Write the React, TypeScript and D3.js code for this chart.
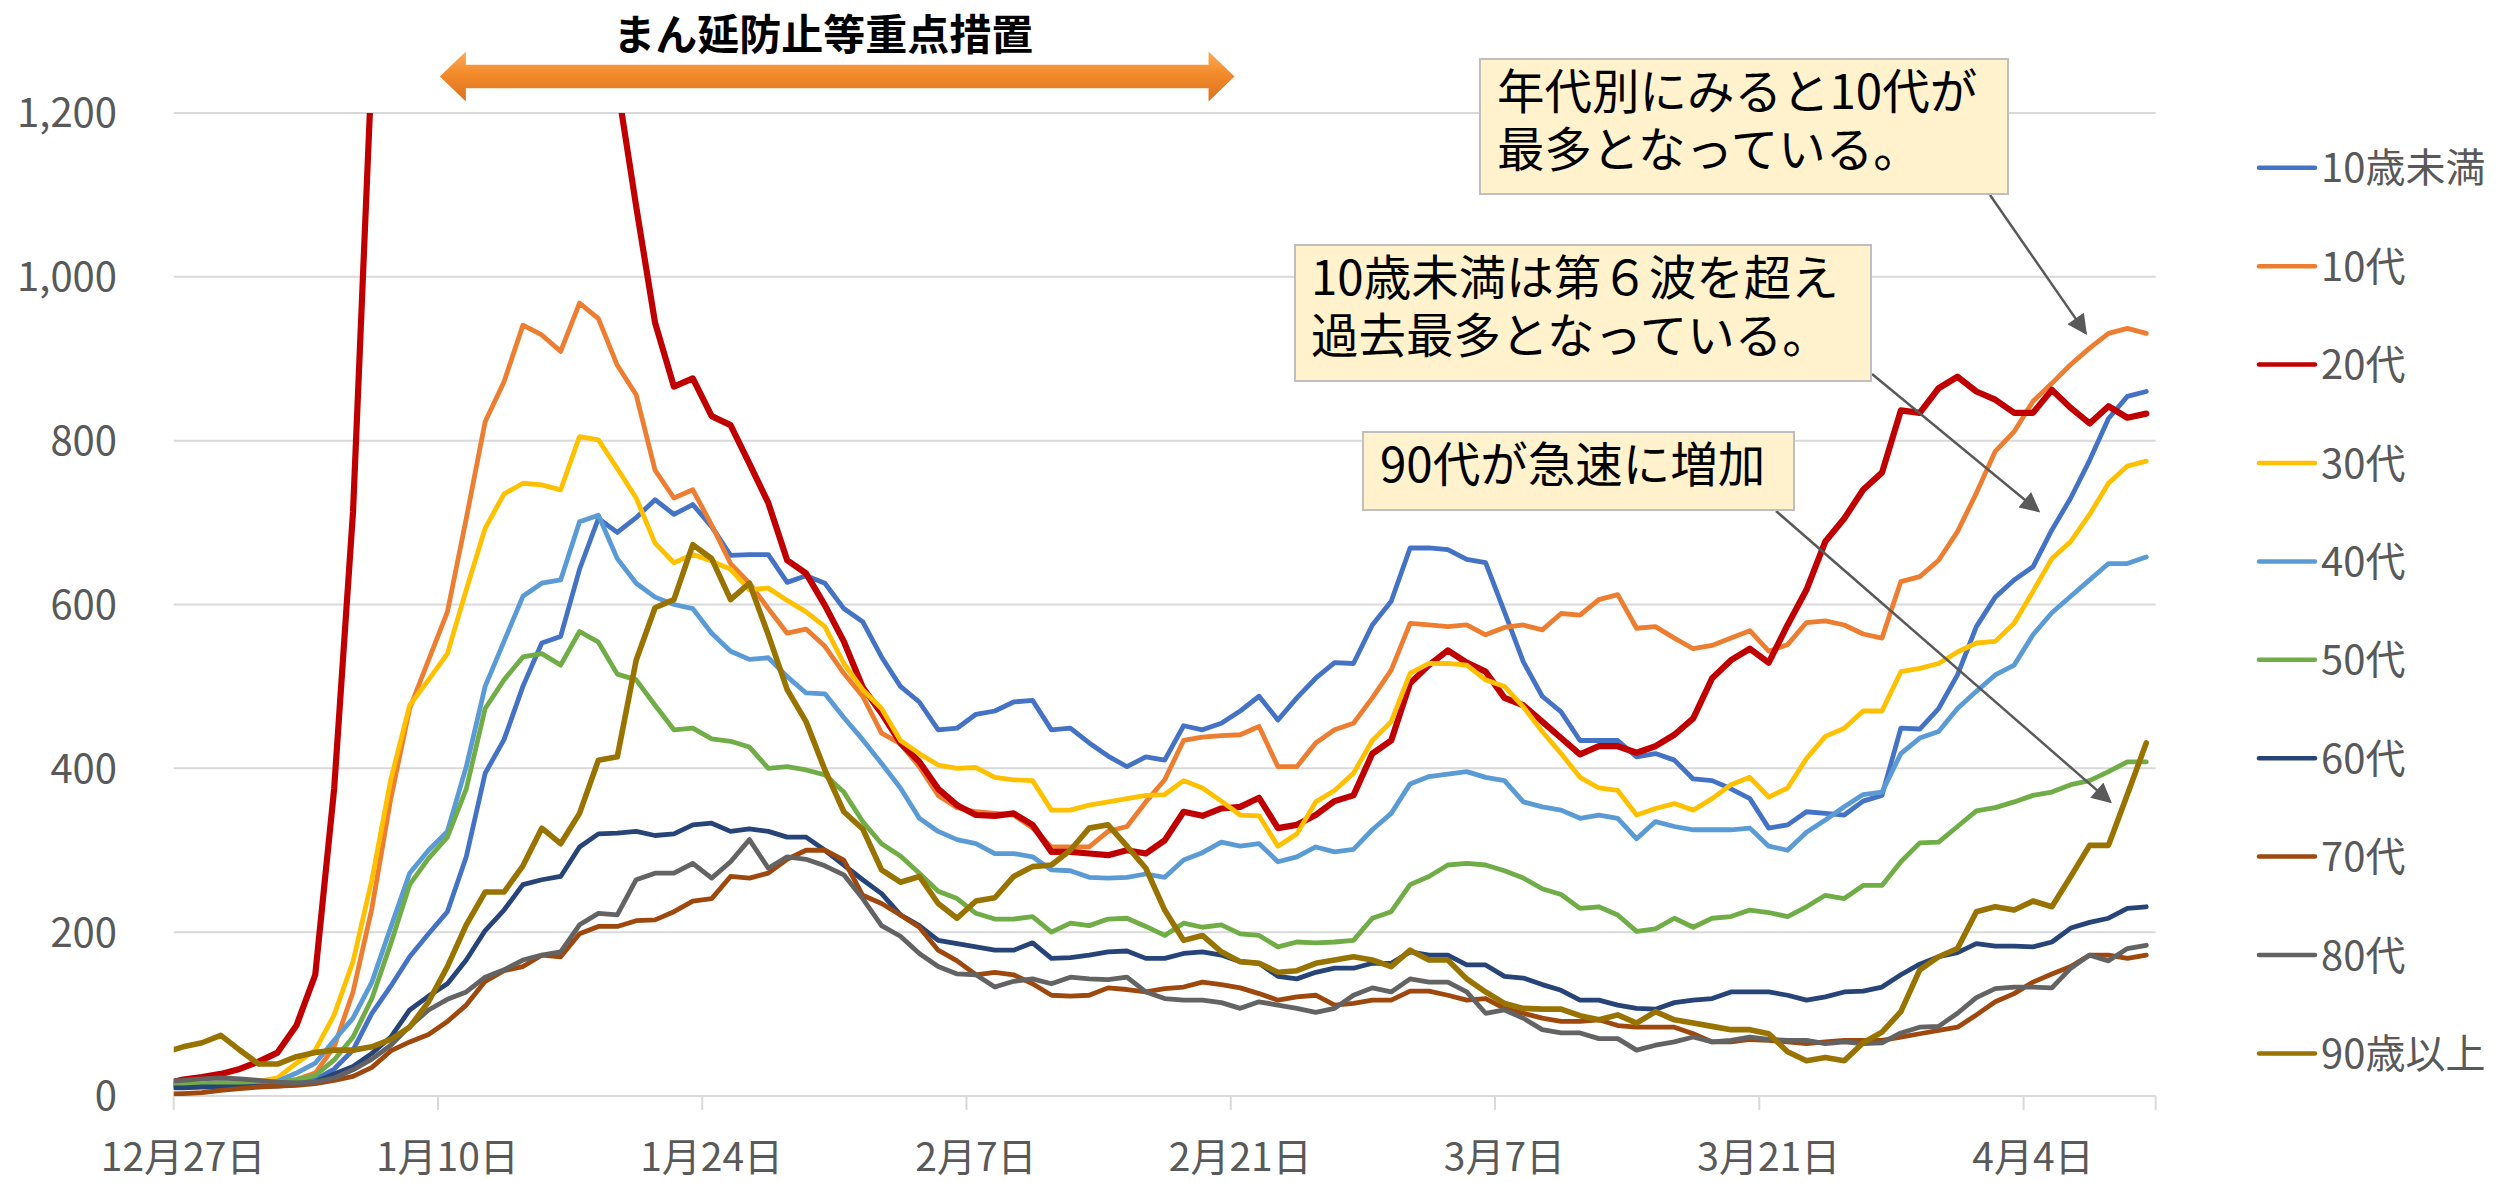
import React from 'react';
import * as d3 from 'd3';

// Daily values, first entry = 12月26日 (just left of the axis, clipped), last = 4月10日
const seriesNames = ["10歳未満", "10代", "20代", "30代", "40代", "50代", "60代", "70代", "80代", "90歳以上"];

const under10 = [12,13,13,14,14,14,15,16,20,33,
  56,101,134,170,198,225,292,394,435,500,
  553,561,643,705,688,706,728,710,722,695,
  660,661,661,627,635,626,595,579,536,500,
  481,447,449,466,470,481,483,447,449,431,
  415,402,414,410,452,447,455,470,488,459,
  486,510,529,528,575,604,669,669,667,655,
  651,591,530,488,469,434,434,434,414,418,
  410,387,385,375,363,327,331,347,345,343,
  360,367,449,448,473,514,573,609,630,646,
  691,730,776,827,854,860];

const teens = [12,13,13,14,14,15,17,20,28,60,
  127,229,363,473,532,591,705,823,872,941,
  929,909,968,949,892,856,764,730,740,697,
  650,626,595,565,570,549,516,488,443,430,
  402,367,352,347,345,343,327,304,304,304,
  323,329,359,386,434,438,440,441,451,402,
  402,431,447,455,486,520,577,575,573,575,
  563,572,575,569,589,587,606,612,571,573,
  559,546,550,559,568,543,551,578,580,575,
  564,559,628,634,654,689,736,787,811,848,
  870,893,913,931,937,931];

const twenties = [15,20,23,27,33,42,53,86,148,375,
  713,1260,1480,1620,1700,1740,1720,1660,1600,1540,
  1470,1400,1340,1290,1235,1086,944,866,876,830,
  819,772,724,654,638,599,555,499,467,431,
  408,375,355,343,342,345,331,298,298,296,
  294,300,296,312,347,342,351,353,364,327,
  331,343,360,367,418,434,504,526,544,529,
  518,486,477,457,437,417,427,427,419,427,
  441,461,510,532,546,529,575,618,677,705,
  740,761,837,834,864,878,860,850,834,834,
  862,840,821,842,828,833];

const thirties = [12,13,14,15,16,18,22,40,56,99,
  164,264,386,477,508,540,618,693,735,748,
  746,740,805,801,766,730,675,651,661,653,
  643,618,620,605,591,573,528,496,473,434,
  418,404,400,401,389,386,385,349,349,355,
  359,363,367,368,385,376,360,343,342,305,
  320,359,373,394,434,457,516,528,528,526,
  508,500,475,445,418,389,376,373,343,351,
  357,349,363,380,389,365,376,412,439,449,
  470,470,518,522,528,542,553,555,577,616,
  656,677,710,748,769,775];

const forties = [12,13,13,14,14,15,18,28,40,68,
  95,139,206,272,300,323,402,500,555,610,
  626,630,701,709,656,626,609,600,595,565,
  543,533,535,512,492,491,462,435,406,376,
  339,323,313,308,296,296,292,276,275,267,
  266,267,271,267,288,297,310,305,308,286,
  292,304,298,301,325,345,381,390,393,396,
  389,385,359,353,349,339,343,339,314,335,
  329,325,325,325,327,305,300,322,337,353,
  368,371,418,437,445,473,494,514,526,563,
  590,610,630,650,650,658];

const fifties = [14,15,15,16,16,16,17,20,25,44,
  72,119,186,258,290,316,375,473,508,536,
  540,526,567,554,515,508,477,447,449,436,
  433,426,400,402,398,392,371,335,308,293,
  272,250,241,223,216,216,219,200,211,208,
  216,217,207,196,211,206,209,198,196,182,
  188,187,188,190,217,225,258,268,282,284,
  282,275,266,253,246,229,231,221,201,204,
  217,206,217,219,227,224,219,231,245,241,
  257,257,286,309,310,329,348,352,359,367,
  371,380,385,396,408,408];

const sixties = [10,10,11,11,11,12,12,14,17,27,
  36,52,72,105,122,137,166,202,227,258,
  264,268,304,320,321,323,318,320,331,333,
  323,326,323,316,316,300,282,264,247,221,
  208,190,186,182,178,178,187,168,169,172,
  176,177,168,168,174,176,172,164,162,146,
  143,151,156,156,162,162,176,172,172,160,
  160,146,144,136,129,117,117,111,107,106,
  114,117,119,127,127,127,123,117,121,127,
  128,133,148,161,170,175,186,183,183,182,
  188,205,212,217,229,231];

const seventies = [2,3,4,7,9,11,12,13,15,19,
  24,35,55,66,75,91,111,140,153,158,
  172,170,198,207,207,214,215,225,238,241,
  268,266,272,289,300,300,288,245,235,221,
  206,178,165,148,151,148,137,123,122,123,
  132,130,127,131,133,139,136,132,125,117,
  121,123,111,113,117,117,128,128,123,117,
  119,107,101,95,91,91,93,86,84,84,
  84,76,66,66,69,68,66,64,66,68,
  68,68,72,76,80,84,99,115,125,139,
  149,158,172,172,168,172];

const eighties = [18,19,21,22,21,19,17,16,17,22,
  32,45,62,85,105,118,127,145,154,166,
  172,176,209,223,221,264,272,272,284,266,
  286,313,278,292,289,281,270,241,208,195,
  174,158,149,148,133,140,143,137,145,143,
  142,145,127,119,117,117,114,107,115,111,
  107,102,107,123,132,127,143,139,139,127,
  101,105,95,81,77,77,70,70,56,62,
  66,72,66,68,72,69,68,68,64,66,
  64,65,77,84,85,101,120,131,133,133,
  132,156,172,165,180,184];

const ninetiesPlus = [53,60,65,74,56,39,39,48,53,56,
  56,60,69,84,115,158,209,249,249,281,
  327,308,345,410,414,532,596,606,673,656,
  606,626,563,496,457,398,347,326,276,261,
  268,235,217,238,242,268,280,282,300,327,
  331,305,278,227,190,196,176,164,162,151,
  153,162,166,170,166,158,178,166,166,143,
  127,113,107,106,106,98,93,99,89,103,
  93,89,85,81,81,76,54,43,47,43,
  65,78,103,154,170,180,225,231,227,238,
  231,268,306,306,368,431];

const seriesValues = [under10, teens, twenties, thirties, forties, fifties, sixties, seventies, eighties, ninetiesPlus];

const yTickValues = [0, 200, 400, 600, 800, 1000, 1200];
const xTickDays = [0, 14, 28, 42, 56, 70, 84, 98]; // days after 12月27日
const xTickLabels = ["12月27日", "1月10日", "1月24日", "2月7日", "2月21日", "3月7日", "3月21日", "4月4日"];

const periodTitle = "まん延防止等重点措置";
const periodDays = [13.6, 55.7];

const notes = [
  { lines: ["年代別にみると10代が", "最多となっている。"], target: [100.8, 931] },
  { lines: ["10歳未満は第６波を超え", "過去最多となっている。"], target: [98.3, 714] },
  { lines: ["90代が急速に増加"], target: [102.1, 359] },
];

const colors = ["#4472C4", "#ED7D31", "#C00000", "#FFC000", "#5B9BD5", "#70AD47", "#264478", "#9E480E", "#636363", "#997300"];
const widths = [4.8, 4.8, 6.2, 4.8, 4.8, 4.8, 4.8, 4.8, 4.8, 5.6];

const FONT = "'Noto Sans CJK JP', 'Noto Sans', sans-serif";

export default function App() {
  const W = 2506, H = 1182;
  const left = 173.7, right = 2155.7, top = 113, bottom = 1096;
  const x = d3.scaleLinear().domain([-0.5, 104.5]).range([left, right]);
  const y = d3.scaleLinear().domain([0, 1200]).range([bottom, top]);
  const line = d3.line<number>().x((_, i) => x(i - 1)).y((v) => y(v));

  // period arrow
  const ax0 = x(periodDays[0]), ax1 = x(periodDays[1]);
  const cy = 76.5, hl = 26, bh = 11.7, hh = 25;
  const arrowPts = [
    [ax0, cy], [ax0 + hl, cy - hh], [ax0 + hl, cy - bh], [ax1 - hl, cy - bh], [ax1 - hl, cy - hh],
    [ax1, cy], [ax1 - hl, cy + hh], [ax1 - hl, cy + bh], [ax0 + hl, cy + bh], [ax0 + hl, cy + hh],
  ].map((p) => p.join(',')).join(' ');

  const boxes = [
    { x: 1480, y: 59, w: 528, h: 135, tx: 1497, base: 109, from: [1990, 195] },
    { x: 1295, y: 245, w: 576, h: 136, tx: 1311, base: 295, from: [1872, 374] },
    { x: 1363, y: 432, w: 431, h: 78, tx: 1380, base: 482, from: [1776, 511] },
  ];
  const lineGap = 57.5;

  return (
    <svg width={W} height={H} style={{ position: 'absolute', left: 0, top: 0, background: '#fff' }} fontFamily={FONT}>
      <defs>
        <clipPath id="plotClip">
          <rect x={left} y={top} width={right - left} height={bottom - top} />
        </clipPath>
        <linearGradient id="orangeGrad" x1="0" y1="0" x2="0" y2="1">
          <stop offset="0%" stopColor="#fbab55" />
          <stop offset="45%" stopColor="#f28a2b" />
          <stop offset="100%" stopColor="#dc721e" />
        </linearGradient>
        <marker id="ah" viewBox="0 0 10 10" refX="9" refY="5" markerUnits="userSpaceOnUse" markerWidth="26" markerHeight="20" orient="auto">
          <path d="M0,0 L10,5 L0,10 z" fill="#595959" />
        </marker>
      </defs>
      <rect x={0} y={0} width={W} height={H} fill="#fff" />

      {/* gridlines */}
      {yTickValues.map((v) => (
        <line key={v} x1={left} x2={right} y1={y(v)} y2={y(v)} stroke="#d9d9d9" strokeWidth={2} />
      ))}
      {/* x ticks */}
      {xTickDays.map((d) => (
        <line key={d} x1={x(d - 0.5)} x2={x(d - 0.5)} y1={bottom} y2={bottom + 14} stroke="#d9d9d9" strokeWidth={2} />
      ))}
      <line x1={right} x2={right} y1={bottom} y2={bottom + 14} stroke="#d9d9d9" strokeWidth={2} />

      {/* y labels */}
      {yTickValues.map((v) => (
        <text key={v} x={117} y={y(v)} dy="0.36em" textAnchor="end" fontSize={40} fill="#595959">
          {d3.format(',')(v)}
        </text>
      ))}
      {/* x labels */}
      {xTickDays.map((d, i) => (
        <text key={d} x={x(d)} y={1171} textAnchor="middle" fontSize={39} fill="#595959">
          {xTickLabels[i]}
        </text>
      ))}

      {/* series */}
      <g clipPath="url(#plotClip)">
        {seriesValues.map((vals, i) => (
          <path key={i} d={line(vals) || ''} fill="none" stroke={colors[i]} strokeWidth={widths[i]} strokeLinejoin="round" strokeLinecap="round" />
        ))}
      </g>

      {/* legend */}
      {seriesNames.map((n, i) => {
        const ly = 167.8 + i * 98.4;
        return (
          <g key={n}>
            <line x1={2259} x2={2315} y1={ly} y2={ly} stroke={colors[i]} strokeWidth={4.5} strokeLinecap="round" />
            <text x={2321} y={ly + 14.5} fontSize={40} fill="#595959">{n}</text>
          </g>
        );
      })}

      {/* period arrow + title */}
      <polygon points={arrowPts} fill="url(#orangeGrad)" />
      <text x={(ax0 + ax1) / 2 - 14} y={50} textAnchor="middle" fontSize={42} fontWeight="bold" fill="#000">{periodTitle}</text>

      {/* annotations */}
      {notes.map((nt, i) => {
        const b = boxes[i];
        return (
          <g key={i}>
            <line x1={b.from[0]} y1={b.from[1]} x2={x(nt.target[0])} y2={y(nt.target[1])} stroke="#595959" strokeWidth={2.5} markerEnd="url(#ah)" />
            <rect x={b.x} y={b.y} width={b.w} height={b.h} fill="#fff2cc" stroke="#bfbfbf" strokeWidth={2} />
            <text x={b.tx} y={b.base} fontSize={47.5} fill="#000">
              {nt.lines.map((t, j) => (
                <tspan key={j} x={b.tx} dy={j === 0 ? 0 : lineGap}>{t}</tspan>
              ))}
            </text>
          </g>
        );
      })}
    </svg>
  );
}
